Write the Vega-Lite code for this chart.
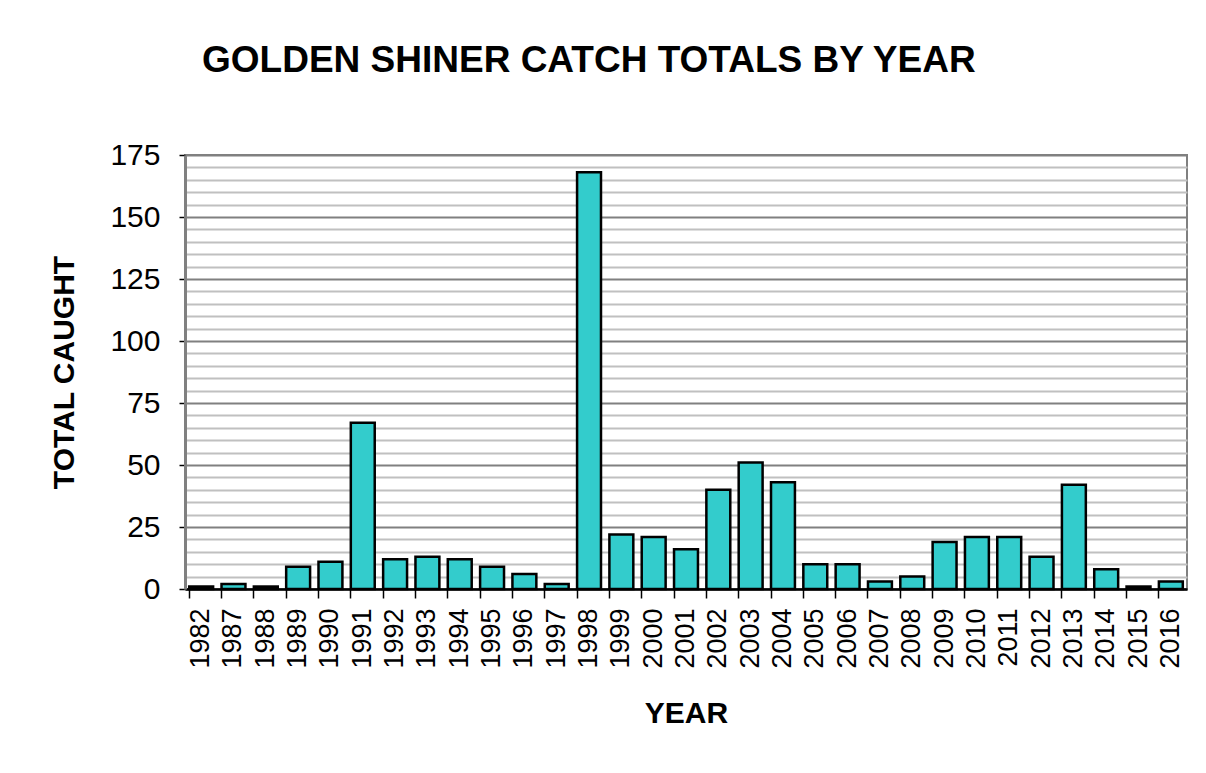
{
  "$schema": "https://vega.github.io/schema/vega-lite/v6.json",
  "width": 1002,
  "height": 434,
  "autosize": {"type": "none"},
  "padding": {"left": 185, "top": 155, "right": 19, "bottom": 184},
  "background": "white",
  "title": {
    "text": "GOLDEN SHINER CATCH TOTALS BY YEAR",
    "anchor": "start",
    "frame": "group",
    "dx": 17,
    "baseline": "alphabetic",
    "offset": 31,
    "font": "Liberation Sans",
    "fontSize": 37,
    "fontWeight": "bold",
    "color": "black"
  },
  "data": {
    "values": [
      {"year": "1982", "caught": 1},
      {"year": "1987", "caught": 2},
      {"year": "1988", "caught": 1},
      {"year": "1989", "caught": 9},
      {"year": "1990", "caught": 11},
      {"year": "1991", "caught": 67},
      {"year": "1992", "caught": 12},
      {"year": "1993", "caught": 13},
      {"year": "1994", "caught": 12},
      {"year": "1995", "caught": 9},
      {"year": "1996", "caught": 6},
      {"year": "1997", "caught": 2},
      {"year": "1998", "caught": 168},
      {"year": "1999", "caught": 22},
      {"year": "2000", "caught": 21},
      {"year": "2001", "caught": 16},
      {"year": "2002", "caught": 40},
      {"year": "2003", "caught": 51},
      {"year": "2004", "caught": 43},
      {"year": "2005", "caught": 10},
      {"year": "2006", "caught": 10},
      {"year": "2007", "caught": 3},
      {"year": "2008", "caught": 5},
      {"year": "2009", "caught": 19},
      {"year": "2010", "caught": 21},
      {"year": "2011", "caught": 21},
      {"year": "2012", "caught": 13},
      {"year": "2013", "caught": 42},
      {"year": "2014", "caught": 8},
      {"year": "2015", "caught": 1},
      {"year": "2016", "caught": 3}
    ]
  },
  "mark": {"type": "bar", "fill": "#33CCCC", "stroke": "black", "strokeWidth": 2.5},
  "encoding": {
    "x": {
      "field": "year",
      "type": "ordinal",
      "sort": null,
      "scale": {"paddingInner": 0.26, "paddingOuter": 0.13},
      "axis": {
        "title": "YEAR",
        "labelAngle": 270,
        "labelAlign": "right",
        "labelBaseline": "middle",
        "labelFont": "Liberation Sans",
        "labelFontSize": 27,
        "labelColor": "black",
        "labelPadding": 10,
        "bandPosition": 0,
        "ticks": true,
        "tickColor": "black",
        "tickSize": 9,
        "tickWidth": 1.5,
        "domainColor": "black",
        "domainWidth": 2.5,
        "titleFont": "Liberation Sans",
        "titleFontSize": 30,
        "titleFontWeight": "bold",
        "titleColor": "black",
        "titlePadding": 30,
        "grid": false
      }
    },
    "y": {
      "field": "caught",
      "type": "quantitative",
      "scale": {"domain": [0, 175], "nice": false, "zero": true},
      "axis": {
        "title": "TOTAL CAUGHT",
        "values": [0,5,10,15,20,25,30,35,40,45,50,55,60,65,70,75,80,85,90,95,100,105,110,115,120,125,130,135,140,145,150,155,160,165,170,175],
        "labelExpr": "datum.value % 25 === 0 ? datum.label : ''",
        "labelFont": "Liberation Sans",
        "labelFontSize": 30,
        "labelColor": "black",
        "labelPadding": 19,
        "tickColor": "black",
        "tickSize": 6,
        "tickWidth": 1.5,
        "tickOpacity": {"condition": {"test": "datum.value % 25 === 0", "value": 1}, "value": 0},
        "grid": true,
        "gridColor": {"condition": {"test": "datum.value % 25 === 0", "value": "#808080"}, "value": "#C0C0C0"},
        "gridWidth": 2,
        "domainColor": "#808080",
        "domainWidth": 3,
        "titleFont": "Liberation Sans",
        "titleFontSize": 30,
        "titleFontWeight": "bold",
        "titleColor": "black",
        "titlePadding": 30
      }
    }
  },
  "config": {
    "view": {"stroke": "#808080", "strokeWidth": 2},
    "axis": {"labelOverlap": false}
  }
}
